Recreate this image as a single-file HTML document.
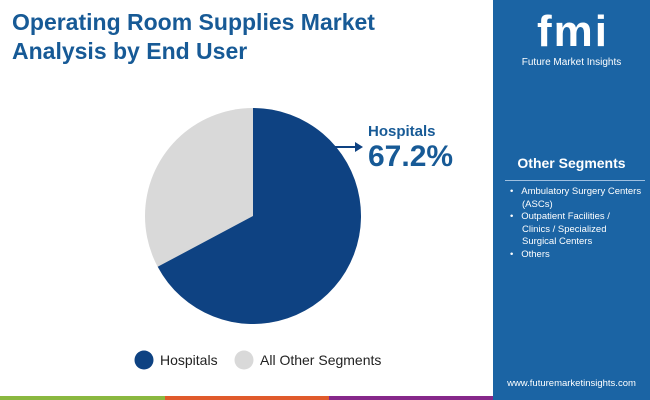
<!DOCTYPE html>
<html><head><style>
body{margin:0;width:650px;height:400px;position:relative;background:#fff;font-family:"Liberation Sans",sans-serif;overflow:hidden}
.t{position:absolute;left:12px;top:8px;font-size:23px;font-weight:bold;color:#175a96;line-height:29px}
.p{position:absolute;left:493px;top:0;width:157px;height:400px;background:#1b64a4}
.hl{position:absolute;left:368px;top:123px;color:#175a96;font-weight:bold}
</style></head><body>
<div class="t">Operating Room Supplies Market<br>Analysis by End User</div>
<svg width="650" height="400" style="position:absolute;left:0;top:0">
<circle cx="253" cy="216" r="108" fill="#d9d9d9"/>
<path d="M253,216 L253,108 A108,108 0 1,1 157.7,266.8 Z" fill="#0e4282"/>
<line x1="335" y1="147" x2="356" y2="147" stroke="#0e4282" stroke-width="2"/>
<polygon points="355,142 363,147 355,152" fill="#0e4282"/>
<circle cx="144" cy="360" r="9.5" fill="#0e4282"/>
<circle cx="244" cy="360" r="9.5" fill="#d9d9d9"/>
<text x="160" y="365" font-size="14" fill="#222">Hospitals</text>
<text x="260" y="365" font-size="14" fill="#222">All Other Segments</text>
<rect x="0" y="396" width="165" height="4" fill="#8ab840"/>
<rect x="165" y="396" width="164" height="4" fill="#e05a2b"/>
<rect x="329" y="396" width="164" height="4" fill="#86288a"/>
</svg>
<div class="hl"><div style="font-size:15px">Hospitals</div><div style="font-size:30px;margin-top:0px">67.2%</div></div>
<div class="p">
<div style="position:absolute;left:25px;top:8px;width:110px;text-align:center;color:#fff;font-weight:bold;font-size:44px;letter-spacing:2px;line-height:48px">fmi</div>
<div style="position:absolute;left:0;top:57px;width:157px;text-align:center;color:#fff;font-size:10px">Future Market Insights</div>
<div style="position:absolute;left:0;top:155px;width:157px;text-align:center;color:#fff;font-weight:bold;font-size:14px">Other Segments</div>
<div style="position:absolute;left:12px;top:180px;width:140px;height:1px;background:#9fc0e0"></div>
<div style="position:absolute;left:17px;top:186px;color:#fff;font-size:9.5px;line-height:12.5px">
<div>•&nbsp;&nbsp;&nbsp;Ambulatory Surgery Centers</div>
<div style="padding-left:12px">(ASCs)</div>
<div>•&nbsp;&nbsp;&nbsp;Outpatient Facilities /</div>
<div style="padding-left:12px">Clinics / Specialized<br>Surgical Centers</div>
<div>•&nbsp;&nbsp;&nbsp;Others</div>
</div>
<div style="position:absolute;left:0;top:378px;width:157px;text-align:center;color:#fff;font-size:9.5px">www.futuremarketinsights.com</div>
</div>
</body></html>
